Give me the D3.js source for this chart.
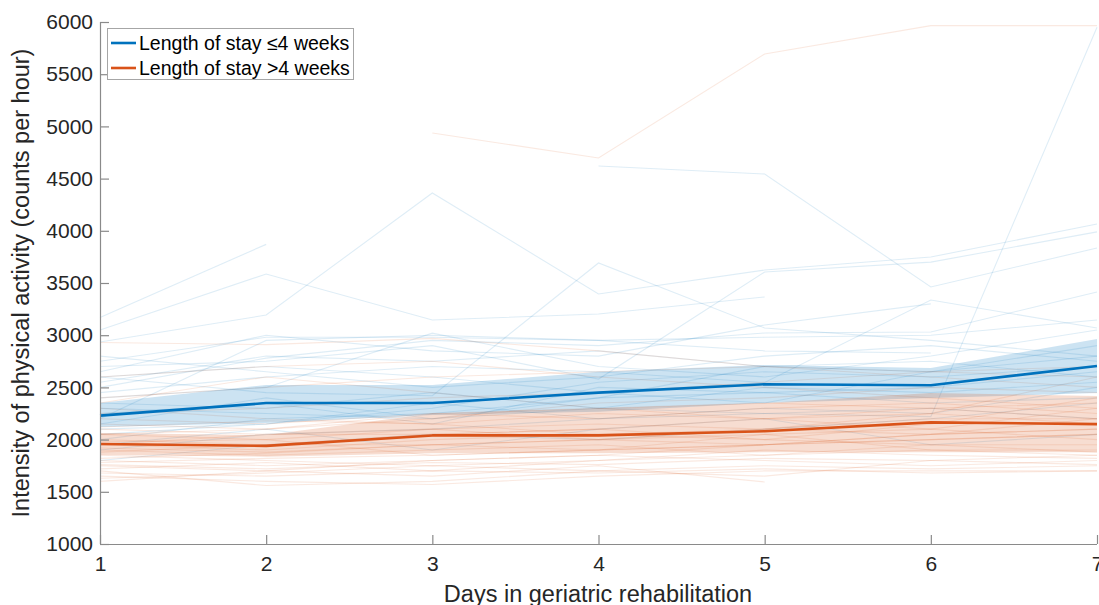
<!DOCTYPE html>
<html><head><meta charset="utf-8">
<script src="https://cdn.jsdelivr.net/npm/d3@7"></script>
<style>body{margin:0;background:#fff}svg{display:block}</style>
</head><body><svg id="c" width="1099" height="605"></svg>
<script>
const days = [1, 2, 3, 4, 5, 6, 7];
const yTicks = [1000, 1500, 2000, 2500, 3000, 3500, 4000, 4500, 5000, 5500, 6000];
const seriesNames = ["Length of stay \u22644 weeks", "Length of stay >4 weeks"];

const meanShort = [2230, 2350, 2350, 2450, 2530, 2520, 2705];
const lowShort  = [2120, 2160, 2235, 2267, 2350, 2398, 2446];
const highShort = [2350, 2523, 2523, 2650, 2715, 2686, 2963];

const meanLong = [1958, 1940, 2040, 2040, 2080, 2165, 2148];
const lowLong  = [1852, 1836, 1870, 1870, 1880, 1880, 1880];
const highLong = [2063, 2044, 2250, 2300, 2350, 2446, 2418];

const indivShort = [
  [3170, 3870, null, null, null, null, null],
  [3050, 3586, 3145, 3203, 3366, null, null],
  [2935, 3193, 4362, 3395, 3624, 3749, 4065],
  [null, null, null, 4620, 4544, 3462, 3835],
  [2600, 2450, 2420, 3692, 3069, 2950, 2800],
  [2700, 2750, 2900, 2580, 3605, 3700, 3990],
  [2300, 2250, 2200, 2300, 2250, 2220, 5950],
  [2450, 2600, 2700, 2650, 2547, 3337, 3069],
  [2650, 3000, 2850, 2800, 3098, 3300, null],
  [2500, 2780, 2950, 2900, 3021, 3030, 3414],
  [2200, 2950, 3000, 2950, 2980, 3000, 3145],
  [2750, 2980, 2980, 2950, 2850, 2830, null],
  [2550, 2800, 2750, 2850, 2700, 2650, 2900],
  [2400, 2500, 3020, 2700, 2600, 2800, 3050],
  [2100, 2150, 2300, 2550, 2650, 2600, 2700],
  [2000, 2200, 2250, 2400, 2450, 2500, 2650],
  [2350, 2300, 2450, 2300, 2500, 2450, 2550],
  [1900, 2050, 2100, 2200, 2300, 2250, 2500],
  [2150, 2400, 2200, 2400, 2700, 2750, 2600],
  [2250, 2350, 2150, 2500, 2450, 2350, 2400],
  [1800, 1950, 2050, 2000, 2100, 2200, 2350],
  [2600, 2700, 2600, 2450, 2350, 2650, 2800],
  [2050, 2150, 2350, 2200, 2250, 2300, 2200],
  [1950, 2100, 1900, 2100, 2200, 1950, 2050],
  [2800, 2650, 2500, 2600, 2800, 2900, 2750]
];

const indivLong = [
  [null, null, 4937, 4697, 5693, 5965, 5965],
  [2930, 2910, 2970, 2850, 2700, 2650, 2600],
  [1650, 1600, 1570, 1650, 1700, 1700, 1700],
  [1700, 1560, 1600, 1700, 1750, 1720, 1750],
  [1750, 1700, 1650, 1750, 1594, null, null],
  [1800, 1750, 1800, 1850, 1800, 1750, 1800],
  [1850, 1800, 1750, 1800, 1900, 1850, 1820],
  [1900, 1850, 1900, 1950, 1850, 1900, 1900],
  [1950, 1900, 2000, 2050, 2000, 1950, 1950],
  [2000, 1950, 1950, 1900, 2050, 2100, 2000],
  [2050, 2000, 2100, 2150, 2100, 2050, 2100],
  [2100, 2050, 2050, 2100, 2200, 2250, 2150],
  [1600, 1700, 1800, 1850, 1950, 2000, 2050],
  [1720, 1780, 1700, 1800, 1850, 1950, 1880],
  [2200, 2150, 2250, 2200, 2300, 2350, 2250],
  [2300, 2200, 2150, 2250, 2200, 2100, 2300],
  [2600, 2700, 2750, 2600, 2500, 2400, 2300],
  [2400, 2500, 2600, 2650, 2700, 2600, 2500],
  [1680, 1650, 1700, 1680, 1720, 1680, 1700],
  [1780, 1820, 1850, 1900, 1950, 2050, 2200],
  [1880, 1950, 2050, 2100, 2000, 2150, 2400],
  [2150, 2100, 2200, 2350, 2400, 2500, 2450],
  [1950, 2050, 2100, 2000, 1950, 2050, 2100],
  [2050, 2100, 2250, 2300, 2200, 2300, 2350],
  [1820, 1870, 1950, 2000, 2100, 2250, 2600],
  [2250, 2300, 2400, 2450, 2550, 2650, 2700],
  [1760, 1720, 1780, 1760, 1820, 1800, 1760],
  [1980, 2000, 1850, 1900, 1950, 2000, 2050],
  [2120, 2180, 2150, 2050, 2100, 2200, 2200],
  [1630, 1680, 1750, 1700, 1650, 1800, 1850],
  [2350, 2600, 2450, 2300, 2350, 2300, 2200],
  [1920, 1880, 1950, 2000, 2050, 1900, 1850]
];

const colors = ["#0072BD", "#D95319"];

const svg = d3.select("#c");
const x = d3.scaleLinear().domain([1, 7]).range([100, 1097]);
const y = d3.scaleLinear().domain([1000, 6000]).range([544, 22]);
const font = "'Liberation Sans', Arial, Helvetica, sans-serif";

const line = d3.line()
  .defined(d => d[1] != null)
  .x(d => x(d[0])).y(d => y(d[1]));

const area = d3.area()
  .x(d => x(d.x)).y0(d => y(d.lo)).y1(d => y(d.hi));

function drawGroup(indiv, color) {
  svg.append("g").selectAll("path").data(indiv).join("path")
    .attr("d", s => line(s.map((v, i) => [days[i], v])))
    .attr("fill", "none").attr("stroke", color)
    .attr("stroke-opacity", 0.13).attr("stroke-width", 1.1);
}
drawGroup(indivShort, colors[0]);
drawGroup(indivLong, colors[1]);

function band(lo, hi, color) {
  svg.append("path")
    .attr("d", area(days.map((d, i) => ({x: d, lo: lo[i], hi: hi[i]}))))
    .attr("fill", color).attr("fill-opacity", 0.2).attr("stroke", "none");
}
band(lowShort, highShort, colors[0]);
band(lowLong, highLong, colors[1]);

function meanLine(m, color) {
  svg.append("path")
    .attr("d", line(m.map((v, i) => [days[i], v])))
    .attr("fill", "none").attr("stroke", color).attr("stroke-width", 2.6)
    .attr("stroke-linejoin", "round");
}
meanLine(meanShort, colors[0]);
meanLine(meanLong, colors[1]);

// axes
const axisColor = "#8a8a8a";
const yAxis = svg.append("g").attr("transform", "translate(100,0)")
  .call(d3.axisLeft(y).tickValues(yTicks).tickSize(-9).tickPadding(7).tickFormat(d3.format("d")));
const xAxis = svg.append("g").attr("transform", "translate(0,544)")
  .call(d3.axisBottom(x).tickValues(days).tickSize(-9).tickPadding(12).tickFormat(d3.format("d")));
[yAxis, xAxis].forEach(a => {
  a.select(".domain").attr("stroke", axisColor).attr("stroke-width", 1.2);
  a.selectAll(".tick line").attr("stroke", axisColor).attr("stroke-width", 1.2);
  a.selectAll(".tick text").attr("fill", "#262626").style("font-family", font).style("font-size", "21px");
});
yAxis.select(".domain").attr("d", "M0.5,544V22");
xAxis.select(".domain").attr("d", "M100,0.5H1097");
yAxis.selectAll(".tick text").attr("x", -7);

svg.append("text")
  .attr("transform", "translate(29,283) rotate(-90)")
  .attr("text-anchor", "middle")
  .style("font-family", font).style("font-size", "23.5px").attr("fill", "#262626")
  .text("Intensity of physical activity (counts per hour)");

svg.append("text")
  .attr("x", 598).attr("y", 602)
  .attr("text-anchor", "middle")
  .style("font-family", font).style("font-size", "23.5px").attr("fill", "#262626")
  .text("Days in geriatric rehabilitation");

// legend
const lg = svg.append("g");
lg.append("rect").attr("x", 107.5).attr("y", 28.5).attr("width", 246).attr("height", 51)
  .attr("fill", "#fff").attr("stroke", "#a6a6a6").attr("stroke-width", 1);
seriesNames.forEach((n, i) => {
  const cy = 43 + i * 25;
  lg.append("line").attr("x1", 111).attr("x2", 136).attr("y1", cy).attr("y2", cy)
    .attr("stroke", colors[i]).attr("stroke-width", 2.6);
  lg.append("text").attr("x", 139).attr("y", cy + 7)
    .style("font-family", font).style("font-size", "19.5px").attr("fill", "#000")
    .text(n);
});
</script></body></html>
